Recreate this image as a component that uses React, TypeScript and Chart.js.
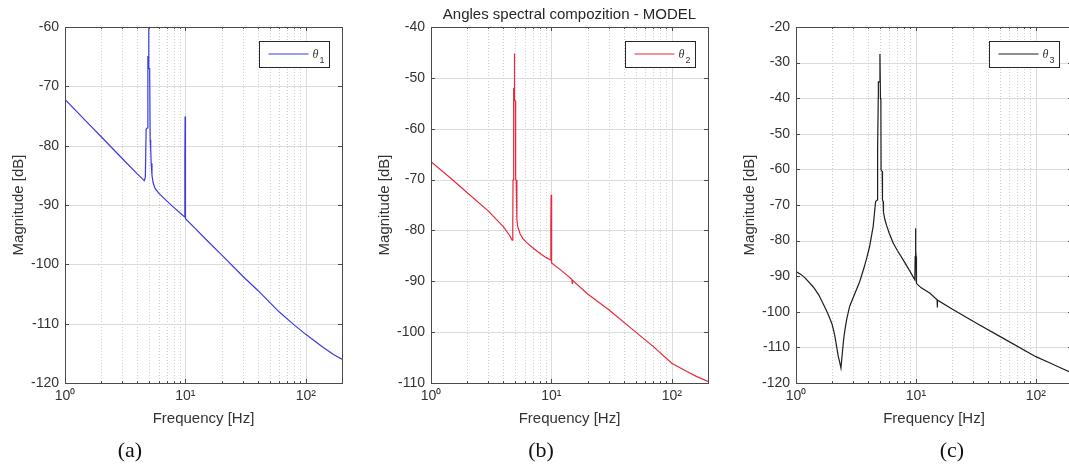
import React, { useEffect, useRef } from 'react';
import { Chart, registerables } from 'chart.js';

Chart.register(...registerables);

// ---------------- data ----------------
const freqTheta1 = [1, 1.5, 2, 3, 4, 4.4, 4.55, 4.65, 4.72, 4.85, 4.88, 4.92, 4.95, 4.98, 5.05, 5.1, 5.15, 5.2, 5.28, 5.4, 5.6, 6, 7, 8, 9, 9.85, 9.9, 9.95, 9.98, 10.02, 10.05, 12, 15, 20, 30, 40, 60, 80, 100, 120, 140, 170, 200];
const magTheta1 = [-72.2, -75.9, -78.5, -82.2, -84.8, -85.6, -85.9, -85.3, -77.2, -77, -65, -65, -60, -67, -67, -79, -80.5, -83, -85, -86.3, -87.2, -88.0, -89.3, -90.4, -91.3, -92, -82.6, -75.1, -84.8, -84.8, -92.3, -93.9, -95.9, -98.4, -102, -104.4, -108, -110.2, -111.8, -113.0, -114.0, -115.2, -116];

const freqTheta2 = [1, 1.5, 2, 3, 4, 4.5, 4.72, 4.78, 4.8, 4.85, 4.87, 4.9, 4.92, 4.96, 5.02, 5.05, 5.1, 5.17, 5.25, 5.5, 5.8, 6.3, 7, 8, 9, 9.85, 9.9, 9.95, 9.98, 10.05, 10.1, 12, 14.8, 14.9, 15, 20, 30, 48, 70, 100, 130, 160, 200];
const magTheta2 = [-66.5, -70, -72.6, -76.2, -79.3, -81, -81.9, -79, -70.1, -70, -52, -52.5, -45.2, -54.5, -54.5, -70, -70.1, -77.9, -79.2, -80.7, -81.6, -82.5, -83.4, -84.5, -85.3, -85.8, -78.6, -73, -78.6, -80, -86.4, -87.8, -89.6, -90.4, -89.8, -92.5, -95.6, -99.6, -102.8, -106.1, -107.6, -108.7, -109.7];

const freqTheta3 = [1, 1.1, 1.2, 1.4, 1.55, 1.7, 1.85, 2.0, 2.1, 2.2, 2.25, 2.3, 2.37, 2.45, 2.5, 2.56, 2.65, 2.8, 3.0, 3.4, 3.7, 3.9, 4.1, 4.4, 4.61, 4.75, 4.79, 4.85, 4.86, 4.95, 5.01, 5.06, 5.1, 5.12, 5.23, 5.26, 5.33, 5.36, 5.5, 5.7, 6.0, 6.46, 7.0, 7.83, 8.8, 9.79, 9.85, 9.9, 9.95, 9.98, 10.02, 10.1, 11, 13.1, 15, 15.05, 15.15, 20, 32, 50, 100, 130, 160, 200];
const magTheta3 = [-88.7, -89.5, -90.6, -93.1, -95.3, -98, -100.6, -103.5, -106.5, -110.5, -112.5, -113.8, -115.8, -110.5, -107.5, -105, -102, -98.5, -96, -91.5, -87.5, -84.7, -81.8, -76, -69, -68.6, -54.5, -40, -35.4, -35.4, -27.6, -40, -40.5, -60.2, -60.5, -68.6, -69, -72, -74, -75.8, -78, -80.7, -82.8, -85.4, -88.3, -91, -84.5, -82.8, -76.5, -82.8, -84.5, -92, -93.2, -94.8, -96.6, -98.8, -96.7, -99.2, -103.2, -106.9, -112.6, -114.3, -115.7, -117.2];

const decadeTicks = [1, 10, 100];
const decadeLabels = ['10\u2070', '10\u00B9', '10\u00B2'];
const minorTicks = [2, 3, 4, 5, 6, 7, 8, 9, 20, 30, 40, 50, 60, 70, 80, 90];
const xLimits = [1, 200];
const yLimitsA = [-120, -60];
const yLimitsB = [-110, -40];
const yLimitsC = [-120, -20];
const legendNames = ['\u03B8', '\u03B8', '\u03B8'];
const legendSubs = ['1', '2', '3'];

const titleText = 'Angles spectral compozition - MODEL';
const xTitle = 'Frequency [Hz]';
const yTitle = 'Magnitude [dB]';
const captions = ['(a)', '(b)', '(c)'];

// ---------------- styles ----------------
const SANS = "'Liberation Sans', Arial, Helvetica, sans-serif";
const SERIF = "'Liberation Serif', 'Times New Roman', serif";
const TEXT = '#333333';

const toPoints = (f: number[], m: number[]) => f.map((v, i) => ({ x: v, y: m[i] }));

const matlabAxes = {
  id: 'matlabAxes',
  beforeDatasetsDraw(chart: any) {
    const { ctx, chartArea: a, scales } = chart;
    const x = scales.x, y = scales.y;
    ctx.save();
    ctx.lineWidth = 1;
    ctx.strokeStyle = '#cfcfcf';
    ctx.setLineDash([1, 2]);
    minorTicks.forEach((v) => {
      if (v <= xLimits[0] || v >= xLimits[1]) return;
      const px = Math.round(x.getPixelForValue(v)) + 0.5;
      ctx.beginPath(); ctx.moveTo(px, a.top); ctx.lineTo(px, a.bottom); ctx.stroke();
    });
    ctx.setLineDash([]);
    ctx.strokeStyle = '#dcdcdc';
    decadeTicks.forEach((v) => {
      if (v <= xLimits[0] || v >= xLimits[1]) return;
      const px = Math.round(x.getPixelForValue(v)) + 0.5;
      ctx.beginPath(); ctx.moveTo(px, a.top); ctx.lineTo(px, a.bottom); ctx.stroke();
    });
    y.ticks.forEach((t: any) => {
      if (t.value <= y.min || t.value >= y.max) return;
      const py = Math.round(y.getPixelForValue(t.value)) + 0.5;
      ctx.beginPath(); ctx.moveTo(a.left, py); ctx.lineTo(a.right, py); ctx.stroke();
    });
    ctx.restore();
  },
  afterDatasetsDraw(chart: any, _args: any, opts: any) {
    const { ctx, chartArea: a, scales } = chart;
    const x = scales.x, y = scales.y;
    ctx.save();
    ctx.strokeStyle = '#4a4a4a';
    ctx.lineWidth = 1;
    const tick = (x1: number, y1: number, x2: number, y2: number) => {
      ctx.beginPath(); ctx.moveTo(x1, y1); ctx.lineTo(x2, y2); ctx.stroke();
    };
    decadeTicks.forEach((v) => {
      const px = Math.round(x.getPixelForValue(v)) + 0.5;
      tick(px, a.bottom, px, a.bottom - 4);
      tick(px, a.top, px, a.top + 4);
    });
    minorTicks.forEach((v) => {
      if (v >= xLimits[1]) return;
      const px = Math.round(x.getPixelForValue(v)) + 0.5;
      tick(px, a.bottom, px, a.bottom - 2);
      tick(px, a.top, px, a.top + 2);
    });
    y.ticks.forEach((t: any) => {
      const py = Math.round(y.getPixelForValue(t.value)) + 0.5;
      tick(a.left, py, a.left + 4, py);
      tick(a.right, py, a.right - 4, py);
    });
    ctx.strokeRect(Math.round(a.left) + 0.5, Math.round(a.top) + 0.5, Math.round(a.right - a.left), Math.round(a.bottom - a.top));
    // legend
    const bw = 70, bh = 26;
    const bx = Math.round(a.right - 13 - bw) + 0.5;
    const by = Math.round(a.top + 14) + 0.5;
    ctx.fillStyle = '#ffffff';
    ctx.fillRect(bx, by, bw, bh);
    ctx.strokeStyle = '#262626';
    ctx.strokeRect(bx, by, bw, bh);
    ctx.strokeStyle = opts.color;
    ctx.lineWidth = 1.2;
    ctx.beginPath(); ctx.moveTo(bx + 9, by + 12.5); ctx.lineTo(bx + 49, by + 12.5); ctx.stroke();
    ctx.fillStyle = TEXT;
    ctx.textBaseline = 'alphabetic';
    ctx.textAlign = 'left';
    ctx.font = `italic 12px ${SERIF}`;
    ctx.fillText(opts.name, bx + 53, by + 16);
    ctx.font = `9px ${SANS}`;
    ctx.fillText(opts.sub, bx + 60, by + 21);
    ctx.restore();
  },
};

type PanelProps = {
  left: number; width: number; padLeft: number; padRight: number;
  freq: number[]; mag: number[]; yLim: number[]; color: string; name: string; sub: string;
};

function Panel(p: PanelProps) {
  const ref = useRef<HTMLCanvasElement>(null);
  useEffect(() => {
    const chart = new Chart(ref.current as HTMLCanvasElement, {
      type: 'line',
      data: {
        datasets: [{
          data: toPoints(p.freq, p.mag),
          borderColor: p.color,
          borderWidth: 1.2,
          pointRadius: 0,
          fill: false,
          tension: 0,
        }],
      },
      options: {
        animation: false,
        responsive: false,
        devicePixelRatio: 1,
        layout: { padding: { top: 27, bottom: 40, left: p.padLeft, right: p.padRight } },
        plugins: {
          legend: { display: false },
          tooltip: { enabled: false },
          title: { display: false },
          matlabAxes: { color: p.color, name: p.name, sub: p.sub },
        } as any,
        scales: {
          x: {
            type: 'logarithmic',
            min: xLimits[0],
            max: xLimits[1],
            grid: { display: false, drawTicks: false },
            border: { display: false },
            afterBuildTicks: (s: any) => { s.ticks = decadeTicks.map((v) => ({ value: v })); },
            afterFit: (s: any) => { s.height = 45; },
            ticks: {
              autoSkip: false,
              maxRotation: 0,
              padding: 5,
              color: TEXT,
              font: { family: SANS, size: 14 },
              callback: (v: any) => decadeLabels[decadeTicks.indexOf(Number(v))] ?? '',
            },
            title: { display: true, text: xTitle, color: TEXT, font: { family: SANS, size: 15 }, padding: 0 },
          },
          y: {
            type: 'linear',
            min: p.yLim[0],
            max: p.yLim[1],
            grid: { display: false, drawTicks: false },
            border: { display: false },
            afterFit: (s: any) => { s.width = 65; },
            ticks: { stepSize: 10, padding: 6, color: TEXT, font: { family: SANS, size: 14 } },
            title: { display: true, text: yTitle, color: TEXT, font: { family: SANS, size: 15 }, padding: { top: 10, bottom: 0 } },
          },
        },
      },
      plugins: [matlabAxes as any],
    });
    return () => chart.destroy();
  }, []);
  return (
    <canvas
      ref={ref}
      width={p.width}
      height={468}
      style={{ position: 'absolute', left: p.left, top: 0, width: p.width, height: 468 }}
    />
  );
}

export default function App() {
  useEffect(() => { document.body.style.margin = '0'; }, []);
  const capStyle = (cx: number): React.CSSProperties => ({
    position: 'absolute', left: cx - 50, width: 100, top: 436, textAlign: 'center',
    fontFamily: SERIF, fontSize: 22, lineHeight: '28px', color: '#111',
  });
  return (
    <div style={{ position: 'fixed', left: 0, top: 0, width: 1069, height: 468, overflow: 'hidden', background: '#fff' }}>
      <Panel left={0} width={355} padLeft={0} padRight={13} freq={freqTheta1} mag={magTheta1} yLim={yLimitsA} color="#3a3ae6" name={legendNames[0]} sub={legendSubs[0]} />
      <Panel left={355} width={355} padLeft={11} padRight={2} freq={freqTheta2} mag={magTheta2} yLim={yLimitsB} color="#e8283c" name={legendNames[1]} sub={legendSubs[1]} />
      <Panel left={710} width={375} padLeft={21} padRight={13} freq={freqTheta3} mag={magTheta3} yLim={yLimitsC} color="#1e1e1e" name={legendNames[2]} sub={legendSubs[2]} />
      <div style={{ position: 'absolute', left: 431, width: 277, top: 4, textAlign: 'center', fontFamily: SANS, fontSize: 15, lineHeight: '20px', color: '#262626', whiteSpace: 'nowrap' }}>{titleText}</div>
      <div style={capStyle(130)}>{captions[0]}</div>
      <div style={capStyle(541)}>{captions[1]}</div>
      <div style={capStyle(952)}>{captions[2]}</div>
    </div>
  );
}
